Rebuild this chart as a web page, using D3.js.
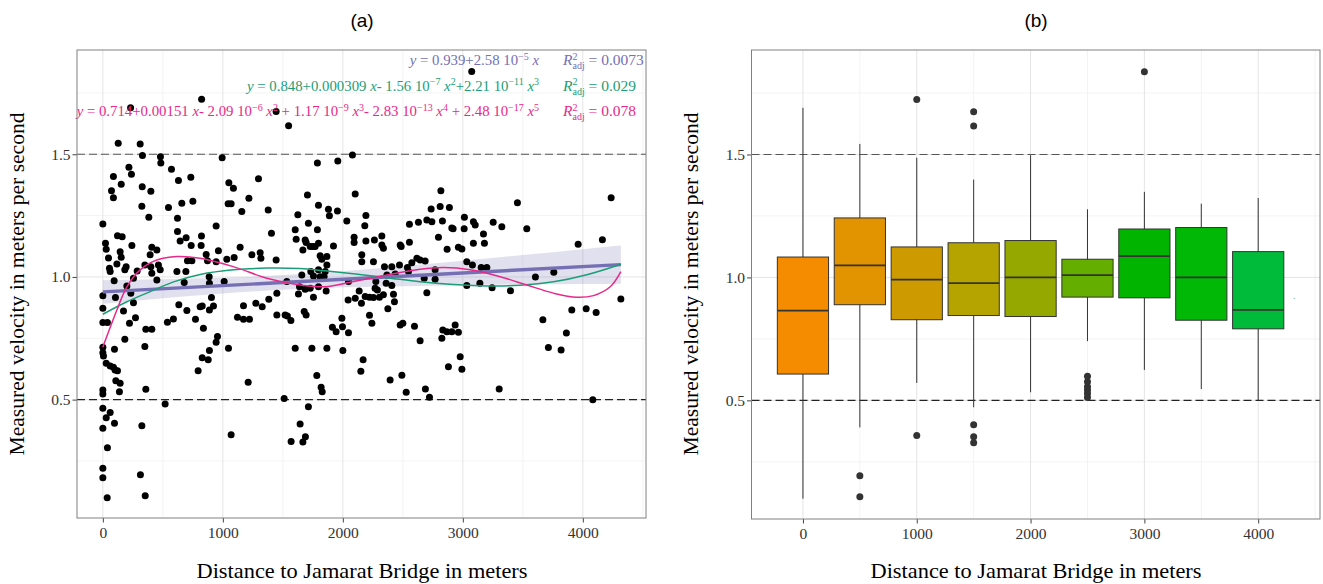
<!DOCTYPE html>
<html>
<head>
<meta charset="utf-8">
<script src="https://cdn.jsdelivr.net/npm/d3@7"></script>
<style>
  body { margin: 0; background: #fff; }
  svg { display: block; }
</style>
</head>
<body>
<div id="chart"></div>
<script>
var W = 1323, H = 584;

// --- scatter (panel a): distance in m, velocity in m/s ---
var dist = [0,22,28,47,55,61,94,0,105,0,0,38,0,0,5,28,61,88,102,122,97,108,144,
  128,311,330,217,238,88,153,72,88,328,400,325,383,122,161,242,144,153,194,183,117,286,350,408,450,394,400,408,463,478,450,255,200,233,255,172,272,222,183,358,408,350,
  480,483,572,630,733,547,658,750,622,622,644,694,736,822,819,944,705,742,861,872,963,944,617,692,678,886,888,905,1011,1033,1094,1144,811,828,922,888,633,700,772,538,588,838,955,944,888,828,878,794,
  1044,1088,1069,1050,994,1158,1217,1297,1378,1405,1242,1317,1311,1444,1172,1275,1328,1383,1450,1122,1172,1222,1211,1047,
  1603,1625,1611,1686,1694,1713,1667,1705,1788,1797,1788,1797,1728,1750,1769,1811,1825,1867,1880,1888,1658,1733,1797,1755,1811,1844,1853,1867,1533,1639,1686,1728,1797,1630,1755,1450,1519,1538,1567,1678,1694,1603,1742,1867,1783,
  2080,1958,2103,1955,2033,2192,2183,2094,2094,2192,2263,2325,2325,2338,1922,2158,2158,2255,2347,2408,2478,2486,2555,2472,2538,2547,2575,2617,2644,2686,2555,2630,2700,2742,2736,2811,2888,2817,2830,2908,2919,2797,2869,2963,2992,3013,3011,3088,3103,3172,3180,3088,3253,3325,2769,2769,2678,3033,3080,3153,3200,3033,3142,3244,3397,3455,3533,3605,3758,3961,4163,4236,4317,3908,4028,4111,3667,3713,3819,3863,
  1861,2047,2044,2103,2136,2155,2186,2222,2255,2269,2288,2305,2338,2275,2361,2408,2422,2430,2375,2436,2367,2700,1913,1944,1992,1997,2047,2000,2222,2242,2169,2150,2394,2492,2478,2500,2597,2644,2825,2833,2867,2936,2963,2908,2978,2880,2992,
  0,0,138,358,519,0,61,28,97,0,325,38,0,0,313,36,353,1069,1511,1713,1644,1569,1667,1688,1819,1828,2528,2688,2722,3303,4083,3074,823,231,1444,1548];
var vel = [1.216,1.137,1.113,1.077,1.035,1.022,0.985,0.923,0.916,0.872,0.814,0.814,0.713,0.691,0.678,0.648,0.637,0.632,0.621,0.618,0.705,0.577,0.567,
  1.545,1.542,1.495,1.447,1.419,1.409,1.378,1.351,1.323,1.368,1.349,1.288,1.243,1.168,1.164,1.128,1.103,1.080,1.042,1.029,1.053,1.024,1.049,1.121,1.110,1.090,1.042,1.015,1.049,1.029,0.988,0.995,0.963,0.934,0.895,0.861,0.834,0.811,0.746,0.787,0.787,0.716,
  1.490,1.464,1.439,1.393,1.406,1.283,1.300,1.309,1.239,1.185,1.147,1.160,1.128,1.167,1.128,1.208,1.066,1.066,1.091,1.066,1.107,1.062,1.022,1.022,0.977,1.001,0.974,0.916,0.981,1.072,1.079,1.121,0.879,0.882,0.882,0.865,0.887,0.863,0.828,0.815,0.829,0.791,0.757,0.734,0.700,0.671,0.662,0.618,
  1.298,1.362,1.298,1.384,1.486,1.267,1.321,1.400,1.273,1.178,1.090,1.076,1.099,1.069,0.883,0.893,0.879,0.909,0.934,0.836,0.828,0.828,0.571,0.709,
  1.192,1.253,1.154,1.151,1.140,1.219,1.110,1.334,1.464,1.292,1.192,1.137,1.124,1.124,1.124,1.086,1.072,1.083,1.276,1.249,1.008,1.022,1.029,1.004,1.001,1.001,1.022,1.049,0.981,0.960,0.950,0.954,0.960,0.931,0.917,0.845,0.845,0.841,0.822,0.859,0.845,0.709,0.709,0.709,0.598,
  1.497,1.473,1.338,1.269,1.228,1.250,1.209,1.162,1.140,1.147,1.151,1.167,1.130,1.117,1.126,1.090,1.062,1.062,1.042,1.042,1.130,1.124,1.141,1.049,1.038,1.022,1.058,1.076,1.069,1.065,1.215,1.223,1.232,1.225,1.277,1.287,1.283,1.351,1.228,1.199,1.196,1.162,1.113,1.121,1.114,1.243,1.196,1.225,1.212,1.175,1.137,1.137,1.223,1.205,1.029,0.991,0.995,1.062,1.049,1.039,1.039,0.965,0.974,0.956,0.944,1.302,1.196,1.000,1.019,1.133,1.152,1.323,0.910,0.865,0.870,0.855,0.826,0.712,0.702,0.772,
  0.943,0.981,0.906,0.913,0.943,0.893,0.920,0.917,0.916,0.954,0.947,0.917,0.927,0.981,0.974,0.965,0.929,0.899,0.870,1.012,1.008,0.936,0.795,0.777,0.832,0.797,0.773,0.700,0.844,0.811,0.662,0.616,0.580,0.599,0.804,0.811,0.799,0.740,0.750,0.784,0.777,0.804,0.775,0.777,0.675,0.634,0.624,
  0.539,0.523,0.532,0.542,0.482,0.465,0.447,0.426,0.404,0.383,0.393,0.304,0.220,0.182,0.194,0.100,0.108,0.357,0.505,0.471,0.401,0.329,0.327,0.349,0.550,0.532,0.530,0.543,0.510,0.543,0.499,1.837,1.724,1.690,1.674,1.616];

// --- fitted curves ---
var linA = 0.939, linB = 2.58e-5;
var bandX = [0, 500, 1000, 1500, 2000, 2500, 3000, 3500, 4000, 4317];
var bandHalf = [0.048, 0.039, 0.032, 0.030, 0.033, 0.041, 0.050, 0.060, 0.071, 0.078];
var cubicX = [0, 200, 394, 589, 811, 1089, 1367, 1644, 1850, 2086, 2367, 2644, 2922, 3200, 3478, 3755, 4033, 4317];
var cubicV = [0.848, 0.899, 0.940, 0.980, 1.010, 1.029, 1.036, 1.034, 1.025, 1.013, 0.997, 0.980, 0.969, 0.963, 0.966, 0.980, 1.009, 1.052];
var quintX = [0, 117, 200, 311, 450, 617, 811, 1086, 1367, 1644, 1850, 2089, 2367, 2644, 2839, 3061, 3311, 3533, 3755, 3950, 4089, 4228, 4317];
var quintV = [0.714, 0.865, 0.960, 1.029, 1.069, 1.083, 1.076, 1.042, 0.995, 0.967, 0.960, 0.981, 1.008, 1.031, 1.038, 1.029, 1.001, 0.967, 0.934, 0.917, 0.924, 0.960, 1.022];

// --- boxplots (panel b) ---
var boxX = [0, 500, 1000, 1500, 2000, 2500, 3000, 3500, 4000];
var boxLow = [0.100, 0.390, 0.571, 0.472, 0.533, 0.741, 0.624, 0.546, 0.499];
var boxQ1 = [0.607, 0.889, 0.828, 0.845, 0.841, 0.920, 0.917, 0.826, 0.791];
var boxMed = [0.865, 1.049, 0.991, 0.977, 1.000, 1.009, 1.087, 1.000, 0.868];
var boxQ3 = [1.083, 1.242, 1.124, 1.141, 1.150, 1.074, 1.197, 1.203, 1.105];
var boxHigh = [1.690, 1.543, 1.487, 1.398, 1.497, 1.277, 1.348, 1.300, 1.323];
var boxFill = ["#F58C00", "#E29300", "#CD9B00", "#B5A400", "#94A800", "#64AE00", "#00B400", "#00B805", "#00BA3A"];
var outX = [500, 500, 1000, 1000, 1500, 1500, 1500, 1500, 1500, 2500, 2500, 2500, 2500, 2500, 2500, 3000];
var outV = [0.193, 0.108, 1.724, 0.357, 1.674, 1.616, 0.401, 0.352, 0.328, 0.598, 0.576, 0.555, 0.542, 0.528, 0.512, 1.837];
var singleX = [4316], singleV = [0.914];

var xTicks = [0, 1000, 2000, 3000, 4000];
var xMinor = [500, 1500, 2500, 3500, 4500];
var yTicks = [0.5, 1.0, 1.5];
var yMinor = [0.25, 0.75, 1.25, 1.75];
var refLines = [0.5, 1.5];

var eqLin = [["y","i"],[" = 0.939+2.58 10","n"],["\u22125","s"],[" ","n"],["x","i"]];
var eqCub = [["y","i"],[" = 0.848+0.000309 ","n"],["x","i"],["- 1.56 10","n"],["\u22127","s"],[" ","n"],["x","i"],["2","s"],
  ["+2.21 10","n"],["\u221211","s"],[" ","n"],["x","i"],["3","s"]];
var eqQui = [["y","i"],[" = 0.714+0.00151 ","n"],["x","i"],["- 2.09 10","n"],["\u22126","s"],[" ","n"],["x","i"],["2","s"],
  [" + 1.17 10","n"],["\u22129","s"],[" ","n"],["x","i"],["3","s"],["- 2.83 10","n"],["\u221213","s"],[" ","n"],["x","i"],["4","s"],
  [" + 2.48 10","n"],["\u221217","s"],[" ","n"],["x","i"],["5","s"]];
var r2 = ["0.0073", "0.029", "0.078"];

var cLin = "#7570B3", cCub = "#1B9E77", cQui = "#E7298A";
var serif = "'Liberation Serif', 'DejaVu Serif', serif";

var svg = d3.select("#chart").append("svg")
  .attr("width", W).attr("height", H);

function frame(x, y, x0, x1, y0, y1) {
  var g = svg.append("g");
  g.selectAll(".vmin").data(xMinor.filter(function(d){ return x(d) < x1; })).enter().append("line")
    .attr("x1", x).attr("x2", x).attr("y1", y0).attr("y2", y1)
    .attr("stroke", "#f3f3f3").attr("stroke-width", 1);
  g.selectAll(".hmin").data(yMinor).enter().append("line")
    .attr("x1", x0).attr("x2", x1).attr("y1", y).attr("y2", y)
    .attr("stroke", "#f3f3f3").attr("stroke-width", 1);
  g.selectAll(".vmaj").data(xTicks).enter().append("line")
    .attr("x1", x).attr("x2", x).attr("y1", y0).attr("y2", y1)
    .attr("stroke", "#e4e4e4").attr("stroke-width", 1);
  g.selectAll(".hmaj").data(yTicks).enter().append("line")
    .attr("x1", x0).attr("x2", x1).attr("y1", y).attr("y2", y)
    .attr("stroke", "#e4e4e4").attr("stroke-width", 1);
  g.selectAll(".ref").data(refLines).enter().append("line")
    .attr("x1", x0).attr("x2", x1).attr("y1", y).attr("y2", y)
    .attr("stroke", function(d){ return d > 1 ? "#555" : "#222"; })
    .attr("stroke-width", 1.1)
    .attr("stroke-dasharray", "8,4");
}

function axes(x, y, x0, x1, y0, y1) {
  var ax = svg.append("g").attr("transform", "translate(0," + y0 + ")")
    .call(d3.axisBottom(x).tickValues(xTicks).tickFormat(d3.format("d")).tickSize(4.5).tickPadding(4));
  var ay = svg.append("g").attr("transform", "translate(" + x0 + ",0)")
    .call(d3.axisLeft(y).tickValues(yTicks).tickFormat(d3.format(".1f")).tickSize(4.5).tickPadding(2));
  [ax, ay].forEach(function(a) {
    a.select(".domain").remove();
    a.selectAll(".tick line").attr("stroke", "#444");
    a.selectAll("text").attr("fill", "#333").style("font-family", serif).style("font-size", "15.5px");
  });
  svg.append("rect").attr("x", x0).attr("y", y1).attr("width", x1 - x0).attr("height", y0 - y1)
    .attr("fill", "none").attr("stroke", "#808080").attr("stroke-width", 1);
}

function titles(cx, ylx, title) {
  svg.append("text").attr("x", cx).attr("y", 27).attr("text-anchor", "middle")
    .style("font-family", "'Liberation Sans', Arial, sans-serif").style("font-size", "19px").text(title);
  svg.append("text").attr("x", cx).attr("y", 578).attr("text-anchor", "middle")
    .attr("textLength", 331).attr("lengthAdjust", "spacingAndGlyphs")
    .style("font-family", serif).style("font-size", "21px").text("Distance to Jamarat Bridge in meters");
  svg.append("text").attr("transform", "translate(" + ylx + ",284) rotate(-90)").attr("text-anchor", "middle")
    .attr("textLength", 343).attr("lengthAdjust", "spacingAndGlyphs")
    .style("font-family", serif).style("font-size", "21px").text("Measured velocity in meters per second");
}

// ---------------- panel (a) ----------------
var xa = d3.scaleLinear().domain([-215.5, 4526.5]).range([77, 646]);
var ya = d3.scaleLinear().domain([0.0175, 1.925]).range([518, 50]);
frame(xa, ya, 77, 646, 518, 50);

var band = d3.area()
  .x(function(d){ return xa(d); })
  .y0(function(d, i){ return ya(linA + linB * d - bandHalf[i]); })
  .y1(function(d, i){ return ya(linA + linB * d + bandHalf[i]); })
  .curve(d3.curveMonotoneX);
svg.append("path").datum(bandX).attr("d", band).attr("fill", cLin).attr("fill-opacity", 0.22);

svg.append("g").selectAll("circle").data(dist).enter().append("circle")
  .attr("cx", function(d){ return xa(d); })
  .attr("cy", function(d, i){ return ya(vel[i]); })
  .attr("r", 3.5).attr("fill", "#000");

var xLin = d3.extent(dist);
svg.append("line")
  .attr("x1", xa(xLin[0])).attr("x2", xa(xLin[1]))
  .attr("y1", ya(linA + linB * xLin[0])).attr("y2", ya(linA + linB * xLin[1]))
  .attr("stroke", cLin).attr("stroke-width", 3.4);

function curveLine(xs, vs, col) {
  var line = d3.line().x(function(d){ return xa(d); })
    .y(function(d, i){ return ya(vs[i]); }).curve(d3.curveCatmullRom);
  svg.append("path").datum(xs).attr("d", line).attr("fill", "none")
    .attr("stroke", col).attr("stroke-width", 1.5);
}
curveLine(cubicX, cubicV, cCub);
curveLine(quintX, quintV, cQui);

function eq(parts, xEnd, yBase, col) {
  var t = svg.append("text").attr("x", xEnd).attr("y", yBase).attr("text-anchor", "end")
    .attr("fill", col).style("font-family", serif).style("font-size", "14.8px");
  var up = false;
  parts.forEach(function(p) {
    var s = t.append("tspan").text(p[0]);
    if (p[1] === "i") s.style("font-style", "italic");
    if (p[1] === "s") {
      s.style("font-size", "10px");
      if (!up) { s.attr("dy", -5.5); up = true; }
    } else if (up) { s.attr("dy", 5.5); up = false; }
  });
}
function r2Label(val, xStart, yBase, col) {
  var t = svg.append("text").attr("x", xStart).attr("y", yBase)
    .attr("fill", col).style("font-family", serif).style("font-size", "15.5px");
  t.append("tspan").text("R").style("font-style", "italic");
  t.append("tspan").text("2").style("font-size", "10px").attr("dy", -5.5);
  t.append("tspan").text("adj").style("font-size", "10px").attr("dx", -5).attr("dy", 9.5);
  t.append("tspan").text(" = " + val).attr("dy", -4);
}
var eqs = [eqLin, eqCub, eqQui], eqCols = [cLin, cCub, cQui], eqY = [65, 90.5, 116];
eqs.forEach(function(e, i) {
  eq(e, 539, eqY[i], eqCols[i]);
  r2Label(r2[i], 563, eqY[i], eqCols[i]);
});

axes(xa, ya, 77, 646, 518, 50);
titles(362, 24, "(a)");

// ---------------- panel (b) ----------------
var xb = d3.scaleLinear().domain([-452, 4543]).range([751.5, 1320]);
var yb = d3.scaleLinear().domain([0.0175, 1.925]).range([519, 50]);
frame(xb, yb, 751.5, 1320, 519, 50);

var half = 225;
var bx = svg.append("g").selectAll("g").data(boxX).enter().append("g");
bx.append("line")
  .attr("x1", function(d){ return xb(d); }).attr("x2", function(d){ return xb(d); })
  .attr("y1", function(d, i){ return yb(boxLow[i]); }).attr("y2", function(d, i){ return yb(boxHigh[i]); })
  .attr("stroke", "#333").attr("stroke-width", 1);
bx.append("rect")
  .attr("x", function(d){ return xb(d - half); })
  .attr("width", function(d){ return xb(d + half) - xb(d - half); })
  .attr("y", function(d, i){ return yb(boxQ3[i]); })
  .attr("height", function(d, i){ return yb(boxQ1[i]) - yb(boxQ3[i]); })
  .attr("fill", function(d, i){ return boxFill[i]; })
  .attr("stroke", "#333").attr("stroke-width", 1);
bx.append("line")
  .attr("x1", function(d){ return xb(d - half); }).attr("x2", function(d){ return xb(d + half); })
  .attr("y1", function(d, i){ return yb(boxMed[i]); }).attr("y2", function(d, i){ return yb(boxMed[i]); })
  .attr("stroke", "#333").attr("stroke-width", 1.8);

svg.append("g").selectAll("circle").data(outX).enter().append("circle")
  .attr("cx", function(d){ return xb(d); })
  .attr("cy", function(d, i){ return yb(outV[i]); })
  .attr("r", 3.5).attr("fill", "#333");

svg.append("g").selectAll("rect").data(singleX).enter().append("rect")
  .attr("x", function(d){ return xb(d) - 0.5; })
  .attr("y", function(d, i){ return yb(singleV[i]) - 0.5; })
  .attr("width", 1).attr("height", 1).attr("fill", "#5aa8a0");

axes(xb, yb, 751.5, 1320, 519, 50);
titles(1036, 698, "(b)");
</script>
</body>
</html>
